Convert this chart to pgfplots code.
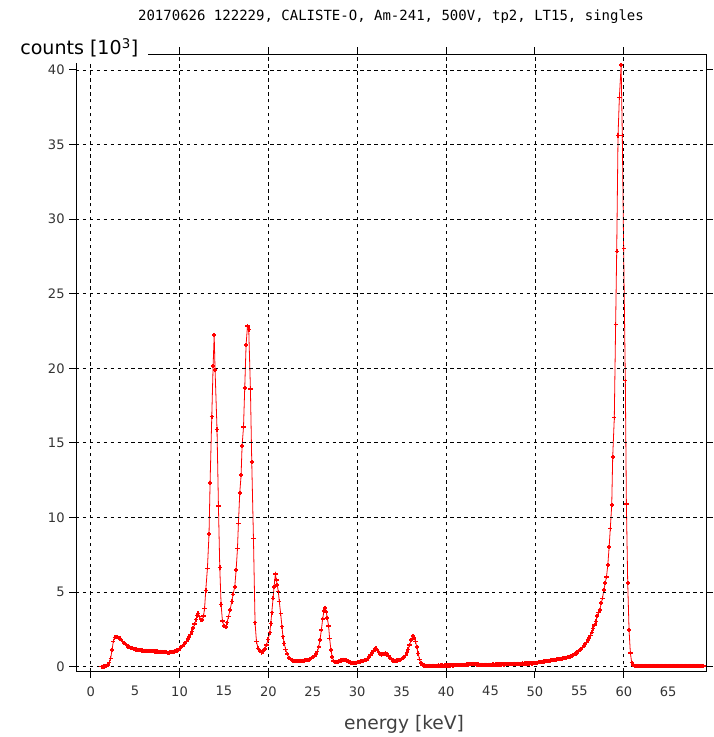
\documentclass[border=0pt]{standalone}
\usepackage{fontspec}
\setmainfont{DejaVu Sans}
\newfontfamily\monofont{DejaVu Sans Mono}
\usepackage{pgfplots}
\pgfplotsset{compat=1.18}
\usepackage{pgfplotstable}

\pgfplotstableread{
x y
1.20 0.00
1.35 0.00
1.50 0.01
1.65 0.03
1.80 0.06
1.95 0.12
2.10 0.28
2.25 0.55
2.40 1.10
2.55 1.70
2.70 1.95
2.85 1.98
3.00 1.97
3.15 1.93
3.30 1.88
3.45 1.80
3.60 1.70
3.75 1.60
3.90 1.50
4.05 1.42
4.20 1.36
4.35 1.31
4.50 1.27
4.65 1.23
4.80 1.20
4.95 1.17
5.10 1.15
5.25 1.13
5.40 1.11
5.55 1.10
5.70 1.09
5.85 1.08
6.00 1.07
6.15 1.07
6.30 1.06
6.45 1.05
6.60 1.05
6.75 1.04
6.90 1.03
7.05 1.03
7.20 1.02
7.35 1.02
7.50 1.01
7.65 1.00
7.80 1.00
7.95 0.99
8.10 0.99
8.25 0.98
8.40 0.98
8.55 0.97
8.70 0.90
8.85 0.95
9.00 0.97
9.15 0.98
9.30 1.00
9.45 1.02
9.60 1.05
9.75 1.09
9.90 1.14
10.05 1.22
10.20 1.30
10.35 1.38
10.50 1.48
10.65 1.58
10.80 1.70
10.95 1.84
11.10 1.98
11.25 2.15
11.40 2.35
11.55 2.58
11.70 2.85
11.85 3.15
12.00 3.42
12.10 3.56
12.25 3.35
12.40 3.15
12.55 3.12
12.70 3.40
12.82 3.90
12.95 5.10
13.14 6.59
13.32 8.89
13.44 12.33
13.63 16.76
13.78 20.15
13.90 22.23
14.00 19.90
14.22 15.90
14.38 10.77
14.53 6.64
14.68 4.16
14.83 3.06
15.01 2.73
15.20 2.64
15.35 2.95
15.50 3.35
15.69 3.80
15.88 4.36
16.03 4.85
16.22 5.36
16.37 6.48
16.52 7.91
16.63 9.61
16.78 11.66
16.93 12.83
17.04 14.81
17.20 16.05
17.34 18.70
17.49 21.56
17.65 22.84
17.79 22.61
17.98 18.61
18.13 13.70
18.32 8.60
18.50 2.95
18.66 1.68
18.84 1.23
19.03 1.07
19.22 0.94
19.40 1.02
19.59 1.20
19.78 1.45
19.97 1.83
20.16 2.28
20.27 2.90
20.38 3.62
20.53 4.58
20.64 5.36
20.79 6.21
20.90 5.81
21.00 5.47
21.12 5.03
21.23 4.36
21.38 3.57
21.53 2.68
21.64 2.01
21.79 1.56
21.94 1.16
22.13 0.83
22.31 0.60
22.47 0.50
22.63 0.43
22.79 0.39
22.95 0.36
23.11 0.36
23.27 0.37
23.43 0.38
23.59 0.39
23.75 0.40
23.91 0.40
24.07 0.42
24.23 0.43
24.39 0.45
24.55 0.47
24.71 0.51
24.87 0.56
25.03 0.63
25.19 0.72
25.35 0.83
25.51 1.02
25.66 1.30
25.81 1.80
25.96 2.45
26.11 3.20
26.26 3.75
26.40 3.95
26.52 3.65
26.63 3.25
26.78 2.72
26.89 1.90
27.04 1.12
27.19 0.63
27.34 0.40
27.50 0.33
27.66 0.31
27.82 0.33
27.98 0.37
28.14 0.41
28.30 0.44
28.46 0.46
28.62 0.45
28.78 0.42
28.94 0.36
29.10 0.31
29.26 0.28
29.42 0.27
29.58 0.26
29.74 0.27
29.90 0.27
30.06 0.29
30.22 0.31
30.38 0.34
30.54 0.37
30.70 0.40
30.86 0.43
31.02 0.47
31.18 0.55
31.34 0.65
31.50 0.80
31.66 0.93
31.82 1.05
31.98 1.18
32.12 1.23
32.26 1.12
32.42 0.94
32.58 0.84
32.74 0.82
32.90 0.83
33.06 0.86
33.20 0.89
33.36 0.84
33.52 0.72
33.68 0.58
33.84 0.48
34.00 0.42
34.16 0.40
34.32 0.40
34.48 0.41
34.64 0.43
34.80 0.46
34.96 0.50
35.12 0.56
35.28 0.65
35.44 0.76
35.58 0.95
35.72 1.15
35.89 1.45
36.07 1.79
36.26 2.06
36.41 1.92
36.56 1.68
36.71 1.30
36.86 0.89
37.01 0.49
37.17 0.24
37.33 0.12
37.49 0.07
37.65 0.05
37.80 0.05
37.95 0.05
38.10 0.06
38.25 0.05
38.40 0.06
38.55 0.06
38.70 0.05
38.85 0.06
39.00 0.06
39.15 0.07
39.30 0.06
39.45 0.07
39.60 0.07
39.75 0.06
39.90 0.07
40.05 0.08
40.20 0.07
40.35 0.08
40.50 0.08
40.65 0.09
40.80 0.08
40.95 0.09
41.10 0.09
41.25 0.10
41.40 0.09
41.55 0.10
41.70 0.11
41.85 0.11
42.00 0.12
42.15 0.13
42.30 0.14
42.45 0.15
42.60 0.16
42.75 0.17
42.90 0.18
43.05 0.18
43.20 0.17
43.35 0.16
43.50 0.15
43.65 0.14
43.80 0.13
43.95 0.13
44.10 0.12
44.25 0.12
44.40 0.13
44.55 0.12
44.70 0.13
44.85 0.13
45.00 0.12
45.15 0.13
45.30 0.14
45.45 0.13
45.60 0.14
45.75 0.14
45.90 0.15
46.05 0.14
46.20 0.15
46.35 0.16
46.50 0.15
46.65 0.16
46.80 0.17
46.95 0.16
47.10 0.17
47.25 0.18
47.40 0.17
47.55 0.18
47.70 0.19
47.85 0.18
48.00 0.19
48.15 0.20
48.30 0.19
48.45 0.20
48.60 0.21
48.75 0.20
48.90 0.21
49.05 0.22
49.20 0.21
49.35 0.22
49.50 0.23
49.65 0.22
49.80 0.24
49.95 0.25
50.10 0.26
50.25 0.27
50.40 0.29
50.55 0.30
50.70 0.32
50.85 0.33
51.00 0.35
51.15 0.36
51.30 0.38
51.45 0.39
51.60 0.40
51.75 0.42
51.90 0.43
52.05 0.45
52.20 0.46
52.35 0.47
52.50 0.49
52.65 0.50
52.80 0.52
52.95 0.53
53.10 0.54
53.25 0.56
53.40 0.58
53.55 0.60
53.70 0.63
53.85 0.66
54.00 0.69
54.15 0.73
54.30 0.78
54.45 0.83
54.60 0.88
54.75 0.95
54.90 1.02
55.05 1.10
55.20 1.18
55.35 1.28
55.50 1.38
55.65 1.50
55.80 1.62
55.95 1.78
56.10 1.92
56.25 2.10
56.40 2.30
56.55 2.55
56.70 2.78
56.85 3.02
57.00 3.40
57.15 3.62
57.30 3.80
57.45 4.25
57.60 4.58
57.75 5.14
57.90 5.59
58.05 6.03
58.20 6.82
58.35 8.04
58.48 9.27
58.64 10.82
58.75 14.07
58.93 16.69
59.08 22.95
59.20 27.84
59.35 35.60
59.50 38.16
59.70 40.33
59.83 35.60
59.98 28.04
60.17 19.17
60.29 10.90
60.44 5.59
60.59 2.46
60.74 0.90
60.89 0.27
61.04 0.10
61.19 0.06
61.34 0.05
61.49 0.04
61.64 0.05
61.79 0.04
61.94 0.04
62.09 0.05
62.24 0.04
62.39 0.04
62.54 0.05
62.69 0.04
62.84 0.04
62.99 0.04
63.14 0.05
63.29 0.04
63.44 0.04
63.59 0.04
63.74 0.05
63.89 0.04
64.04 0.04
64.19 0.04
64.34 0.04
64.49 0.05
64.64 0.04
64.79 0.04
64.94 0.04
65.09 0.04
65.24 0.05
65.39 0.04
65.54 0.04
65.69 0.04
65.84 0.04
65.99 0.04
66.14 0.05
66.29 0.04
66.44 0.04
66.59 0.04
66.74 0.04
66.89 0.04
67.04 0.04
67.19 0.04
67.34 0.05
67.49 0.04
67.64 0.04
67.79 0.04
67.94 0.04
68.09 0.04
68.24 0.04
68.39 0.04
68.54 0.04
68.69 0.04
68.84 0.04
68.99 0.04
}\spectrum

\begin{document}
\begin{tikzpicture}
\useasboundingbox (-57pt,-49.5pt) rectangle (477.75pt,503.25pt);
\begin{axis}[
  name=ax,
  at={(0pt,0pt)}, anchor=south west,
  scale only axis,
  width=472.5pt, height=462.75pt,
  xmin=-1.65, xmax=69.25,
  ymin=-0.29, ymax=41.07,
  axis on top,
  axis line style={black, line width=0.7pt},
  tick align=outside,
  major tick length=5pt,
  tick style={black, line width=0.7pt},
  xtick={0,10,...,60},
  extra x ticks={5,15,...,65},
  extra x tick style={grid=none, tick style={draw=none}},
  ytick={0,5,...,40},
  grid=major,
  major grid style={black, line width=0.65pt, dash pattern=on 2.6pt off 2.6pt},
  /pgf/number format/assume math mode=true,
  ticklabel style={font=\fontsize{9.8}{11}\selectfont, text=black!80},
  xticklabel style={yshift=-3pt},
]
\addplot[red, line width=0.6pt, mark=+, mark size=1.6pt,
  mark options={line width=1.2pt, solid, red}] table[x=x, y=y] {\spectrum};
\end{axis}
\fill[white] (-49.5pt,456pt) rectangle (54pt,481pt);
\node[anchor=base west, inner sep=0pt, font=\fontsize{14.3}{16}\selectfont] at (-42pt,462pt) {counts [10\textsuperscript{3}]};
\node[anchor=base, inner sep=0pt, font=\monofont\fontsize{10.5}{12}\selectfont] at (236.25pt,487.5pt) {20170626 122229, CALISTE-O, Am-241, 500V, tp2, LT15, singles};
\node[anchor=base, inner sep=0pt, font=\fontsize{14}{16}\selectfont, text=black!75] at (246pt,-43.5pt) {energy [keV]};
\end{tikzpicture}
\end{document}
